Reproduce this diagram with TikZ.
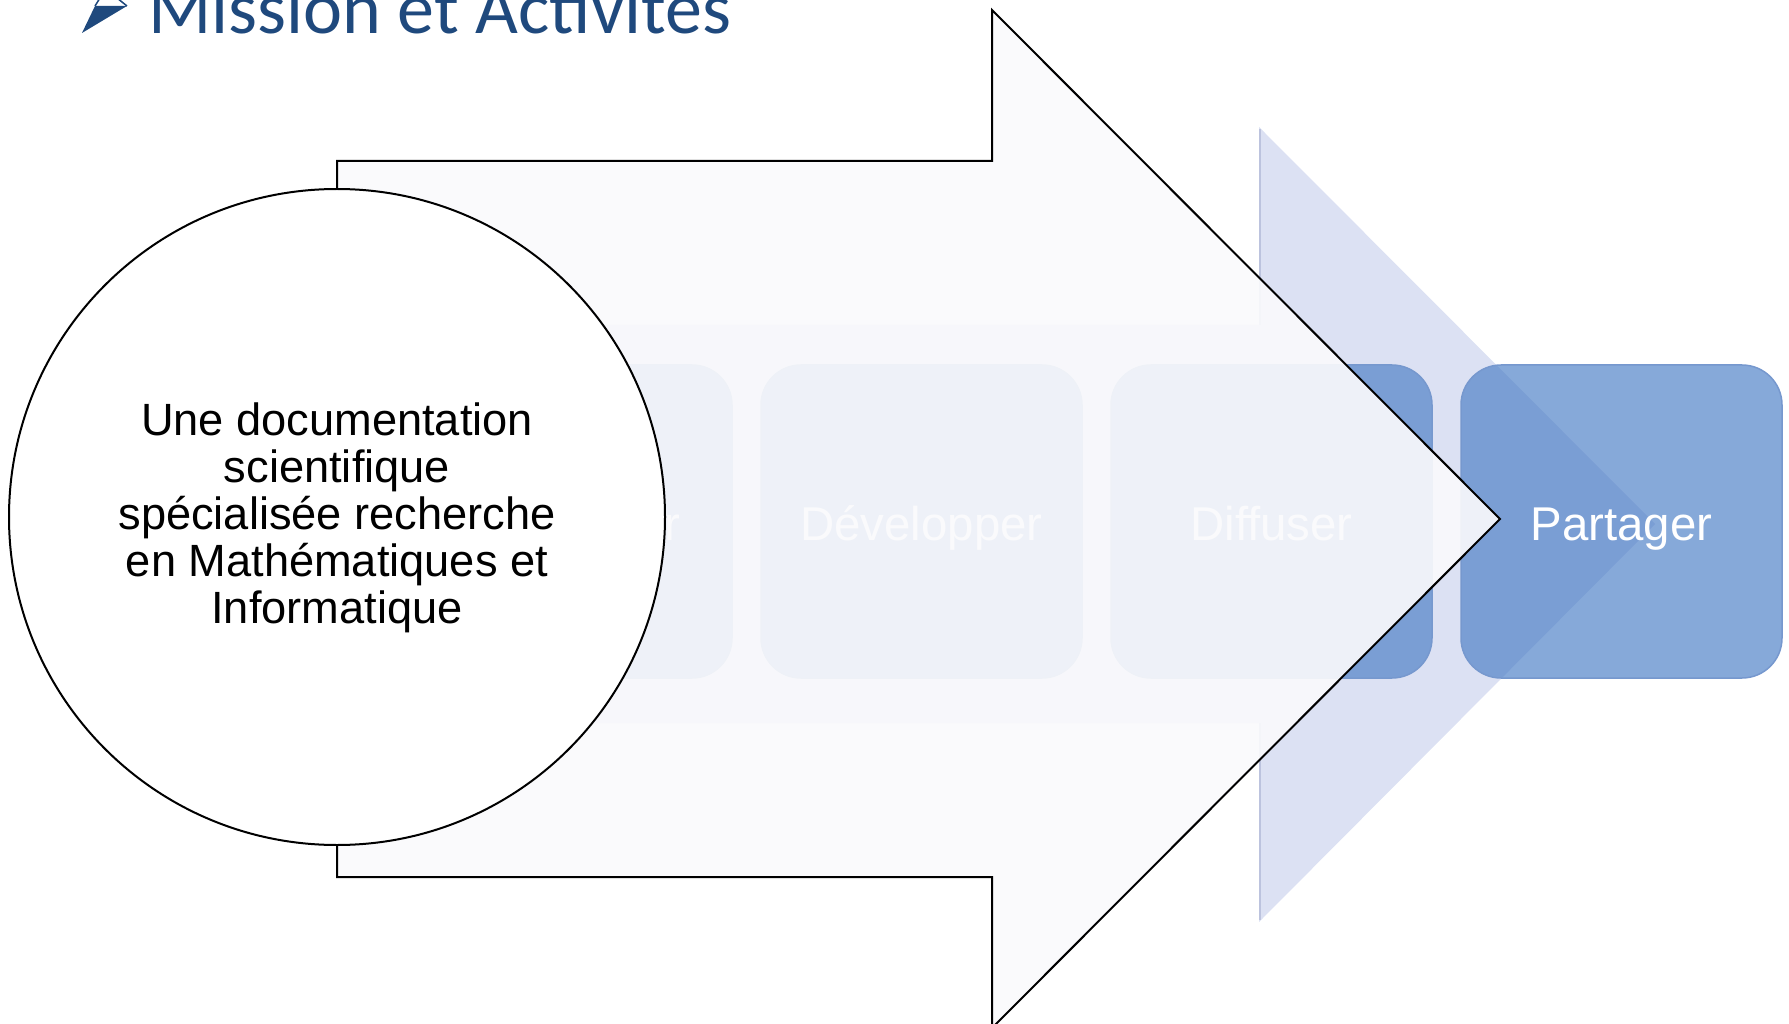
\documentclass[tikz,border=0pt]{standalone}
\usepackage{fontspec}
\setmainfont{Liberation Sans}
\newfontfamily\titlefont{Carlito}
\definecolor{titleblue}{RGB}{31,73,125}
\definecolor{lavender}{RGB}{220,225,243}
\definecolor{lavedge}{RGB}{188,195,222}
\definecolor{boxblue}{RGB}{72,124,197}
\definecolor{boxrim}{RGB}{118,152,206}
\definecolor{arrowfill}{RGB}{250,250,252}
\tikzset{
  stepbox/.style={rectangle, rounded corners=40pt, minimum width=321pt, minimum height=313pt,
    inner sep=0pt, fill=boxblue, fill opacity=0.66, draw=boxrim, line width=1.5pt},
  steplabel/.style={anchor=base, inner sep=0pt, text=white, font=\fontsize{47.4}{50}\selectfont},
  bigarrow/.style={fill=arrowfill, fill opacity=0.91, draw=black, line width=2pt, line join=miter},
  chev/.style={fill=lavender, draw=none},
}
\begin{document}
\begin{tikzpicture}[x=1pt,y=-1pt]
\useasboundingbox (0,0) rectangle (1789,1024);
\clip (0,0) rectangle (1789,1024);
% title
\fill[titleblue] (82,33) -- (127,6) -- (95,6) -- cycle;
\draw[titleblue, line width=1.5pt] (95,6) -- (100,-2);
\draw[titleblue, line width=1.5pt] (127,6) -- (117,-2);
\node[anchor=base west, inner sep=0pt, text=titleblue, font=\titlefont\fontsize{74}{80}\selectfont] (title) at (148,34) {Mission et Activités};
% background chevron
\path[chev] (337,325) -- (1259,325) -- (1259,127) -- (1655,524) -- (1259,922) -- (1259,723) -- (337,723) -- cycle;
\draw[lavedge, line width=2pt] (1260,129) -- (1260,325);
\draw[lavedge, line width=2pt] (1260,723) -- (1260,920);
\draw[white, line width=2pt] (1262,122) -- (1490,350);
% step boxes
\node[stepbox] (b1) at (571.5,521.5) {};
\node[stepbox] (b2) at (921.5,521.5) {};
\node[stepbox] (b3) at (1271.5,521.5) {};
\node[stepbox] (b4) at (1621.5,521.5) {};
\node[steplabel, anchor=base east] (t1) at (680,540) {r};
\node[steplabel] (t2) at (921.5,540) {Développer};
\node[steplabel] (t3) at (1271.5,540) {Diffuser};
\node[steplabel] (t4) at (1621.5,540) {Partager};
% big white arrow
\path[bigarrow] (337,161) -- (992,161) -- (992,10) -- (1500,519) -- (992,1028) -- (992,877) -- (337,877) -- cycle;
% circle
\node[circle, draw=black, fill=white, line width=2pt, minimum size=656pt, inner sep=0pt] (circ) at (337,517) {};
\node[align=center, inner sep=0pt, font=\fontsize{45.2}{47}\selectfont] (ctext) at (337,518)
  {Une documentation\\scientifique\\spécialisée recherche\\en Mathématiques et\\Informatique};
\end{tikzpicture}
\end{document}
